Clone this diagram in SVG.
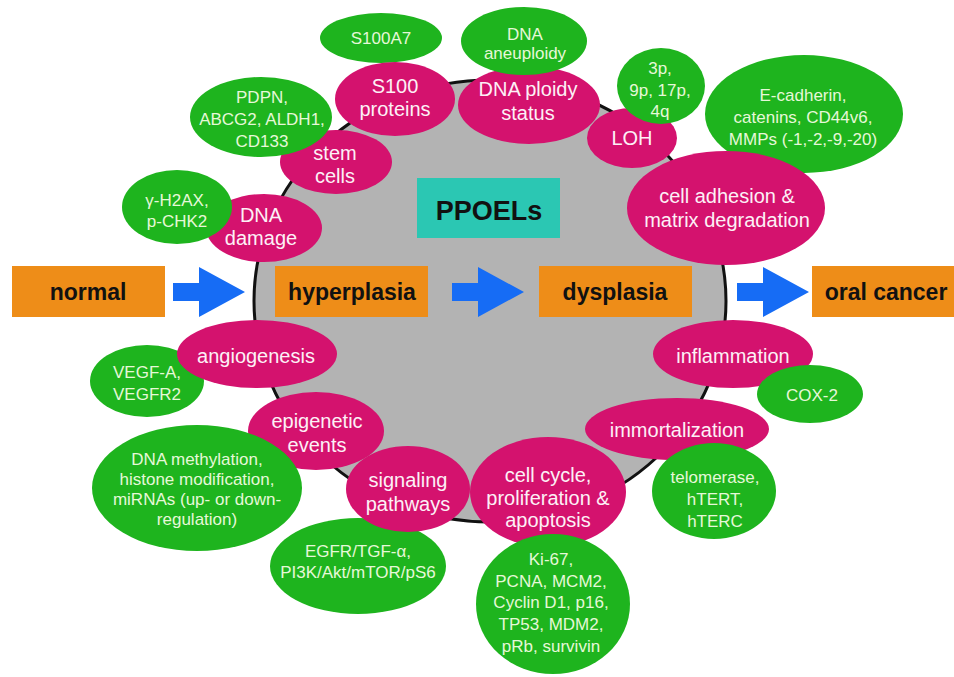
<svg xmlns="http://www.w3.org/2000/svg" width="954" height="677" viewBox="0 0 954 677">
<defs>
<style>
.pk{fill:#d4126e}
.gr{fill:#1eb41e}
.box{fill:#ee8d18}
.arw{fill:#166cf5}
.tp{font-family:"Liberation Sans",Arial,sans-serif;font-size:20px;fill:#fdf0f6;text-anchor:middle}
.tg{font-family:"Liberation Sans",Arial,sans-serif;font-size:17px;fill:#e6f8d8;text-anchor:middle}
.tb{font-family:"Liberation Sans",Arial,sans-serif;font-size:23px;font-weight:bold;fill:#111111;text-anchor:middle}
</style>
<polygon id="blk" points="0,16 26,16 26,0 72,25 26,50 26,34 0,34"/>
</defs>
<rect width="954" height="677" fill="#ffffff"/>
<g id="connectors">
<ellipse id="ring" cx="490" cy="301" rx="236" ry="221" fill="#b3b3b3" stroke="#111111" stroke-width="3"/>
<use href="#blk" class="arw" x="173" y="267"/>
<use href="#blk" class="arw" x="452" y="267"/>
<use href="#blk" class="arw" x="737" y="267"/>
</g>
<g id="ppoels"><rect x="417" y="178" width="143" height="60" fill="#2bc7b3"/><text x="489" y="220" class="tb" style="font-size:27px">PPOELs</text></g>
<g id="normal"><rect class="box" x="12" y="266" width="153" height="51"/><text class="tb" x="88" y="300">normal</text></g>
<g id="hyperplasia"><rect class="box" x="275" y="266" width="153" height="51"/><text class="tb" x="352" y="300">hyperplasia</text></g>
<g id="dysplasia"><rect class="box" x="539" y="266" width="153" height="51"/><text class="tb" x="615" y="300">dysplasia</text></g>
<g id="oral-cancer"><rect class="box" x="812" y="266" width="153" height="51"/><text class="tb" x="886" y="300">oral cancer</text></g>

<g id="s100a7"><ellipse class="gr" cx="381" cy="38" rx="61" ry="25"/><text class="tg" x="381" y="44">S100A7</text></g>
<g id="s100"><ellipse class="pk" cx="395" cy="99" rx="60" ry="37"/><text class="tp" x="395" y="93">S100</text><text class="tp" x="395" y="116">proteins</text></g>

<g id="stem"><ellipse class="pk" cx="336" cy="162" rx="56" ry="32"/><text class="tp" x="335" y="160">stem</text><text class="tp" x="335" y="183">cells</text></g>
<g id="pdpn"><ellipse class="gr" cx="261" cy="117" rx="71" ry="40"/><text class="tg" x="262" y="103">PDPN,</text><text class="tg" x="262" y="125">ABCG2, ALDH1,</text><text class="tg" x="262" y="147">CD133</text></g>

<g id="dnadamage"><ellipse class="pk" cx="264" cy="228" rx="58" ry="34"/><text class="tp" x="261" y="222">DNA</text><text class="tp" x="261" y="245">damage</text></g>
<g id="h2ax"><ellipse class="gr" cx="177" cy="207" rx="55" ry="37"/><text class="tg" x="177" y="206">γ-H2AX,</text><text class="tg" x="177" y="227">p-CHK2</text></g>

<g id="ploidy"><ellipse class="pk" cx="529" cy="105" rx="71" ry="39"/><text class="tp" x="528" y="96">DNA ploidy</text><text class="tp" x="528" y="120">status</text></g>
<g id="aneuploidy"><ellipse class="gr" cx="524" cy="41" rx="63" ry="34"/><text class="tg" x="525" y="40">DNA</text><text class="tg" x="525" y="59">aneuploidy</text></g>

<g id="loh"><ellipse class="pk" cx="632" cy="138" rx="45" ry="30"/><text class="tp" x="632" y="145">LOH</text></g>
<g id="chrom"><ellipse class="gr" cx="661" cy="86" rx="44" ry="38"/><text class="tg" x="660" y="74">3p,</text><text class="tg" x="660" y="96">9p, 17p,</text><text class="tg" x="660" y="117">4q</text></g>

<g id="ecad"><ellipse class="gr" cx="804" cy="114" rx="99" ry="59"/><text class="tg" x="803" y="101">E-cadherin,</text><text class="tg" x="803" y="123">catenins, CD44v6,</text><text class="tg" x="803" y="145">MMPs (-1,-2,-9,-20)</text></g>
<g id="adhesion"><ellipse class="pk" cx="726" cy="208" rx="99" ry="57"/><text class="tp" x="727" y="203">cell adhesion &amp;</text><text class="tp" x="727" y="227">matrix degradation</text></g>

<g id="vegf"><ellipse class="gr" cx="147" cy="381" rx="57" ry="36"/><text class="tg" x="147" y="378">VEGF-A,</text><text class="tg" x="147" y="400">VEGFR2</text></g>
<g id="angio"><ellipse class="pk" cx="257" cy="354" rx="80" ry="34"/><text class="tp" x="256" y="363">angiogenesis</text></g>

<g id="epi"><ellipse class="pk" cx="316" cy="431" rx="68" ry="39"/><text class="tp" x="317" y="428">epigenetic</text><text class="tp" x="317" y="452">events</text></g>
<g id="methyl"><ellipse class="gr" cx="197" cy="488" rx="105" ry="63"/><text class="tg" x="197" y="465">DNA methylation,</text><text class="tg" x="197" y="485">histone modification,</text><text class="tg" x="197" y="505">miRNAs (up- or down-</text><text class="tg" x="197" y="525">regulation)</text></g>

<g id="egfr"><ellipse class="gr" cx="358" cy="566" rx="88" ry="48"/><text class="tg" x="358" y="557">EGFR/TGF-α,</text><text class="tg" x="358" y="578">PI3K/Akt/mTOR/pS6</text></g>
<g id="signal"><ellipse class="pk" cx="408" cy="489" rx="62" ry="43"/><text class="tp" x="408" y="487">signaling</text><text class="tp" x="408" y="511">pathways</text></g>

<g id="cellcycle"><ellipse class="pk" cx="548" cy="492" rx="78" ry="55"/><text class="tp" x="548" y="482">cell cycle,</text><text class="tp" x="548" y="505">proliferation &amp;</text><text class="tp" x="548" y="527">apoptosis</text></g>
<g id="ki67"><ellipse class="gr" cx="553" cy="604" rx="77" ry="70"/><text class="tg" x="551" y="565">Ki-67,</text><text class="tg" x="551" y="587">PCNA, MCM2,</text><text class="tg" x="551" y="608">Cyclin D1, p16,</text><text class="tg" x="551" y="630">TP53, MDM2,</text><text class="tg" x="551" y="652">pRb, survivin</text></g>

<g id="inflam"><ellipse class="pk" cx="733" cy="354" rx="80" ry="34"/><text class="tp" x="733" y="363">inflammation</text></g>
<g id="cox2"><ellipse class="gr" cx="810" cy="394" rx="53" ry="29"/><text class="tg" x="812" y="401">COX-2</text></g>

<g id="immort"><ellipse class="pk" cx="677" cy="429" rx="92" ry="31"/><text class="tp" x="677" y="437">immortalization</text></g>
<g id="telo"><ellipse class="gr" cx="714" cy="491" rx="62" ry="48"/><text class="tg" x="715" y="483">telomerase,</text><text class="tg" x="715" y="505">hTERT,</text><text class="tg" x="715" y="527">hTERC</text></g>
</svg>
